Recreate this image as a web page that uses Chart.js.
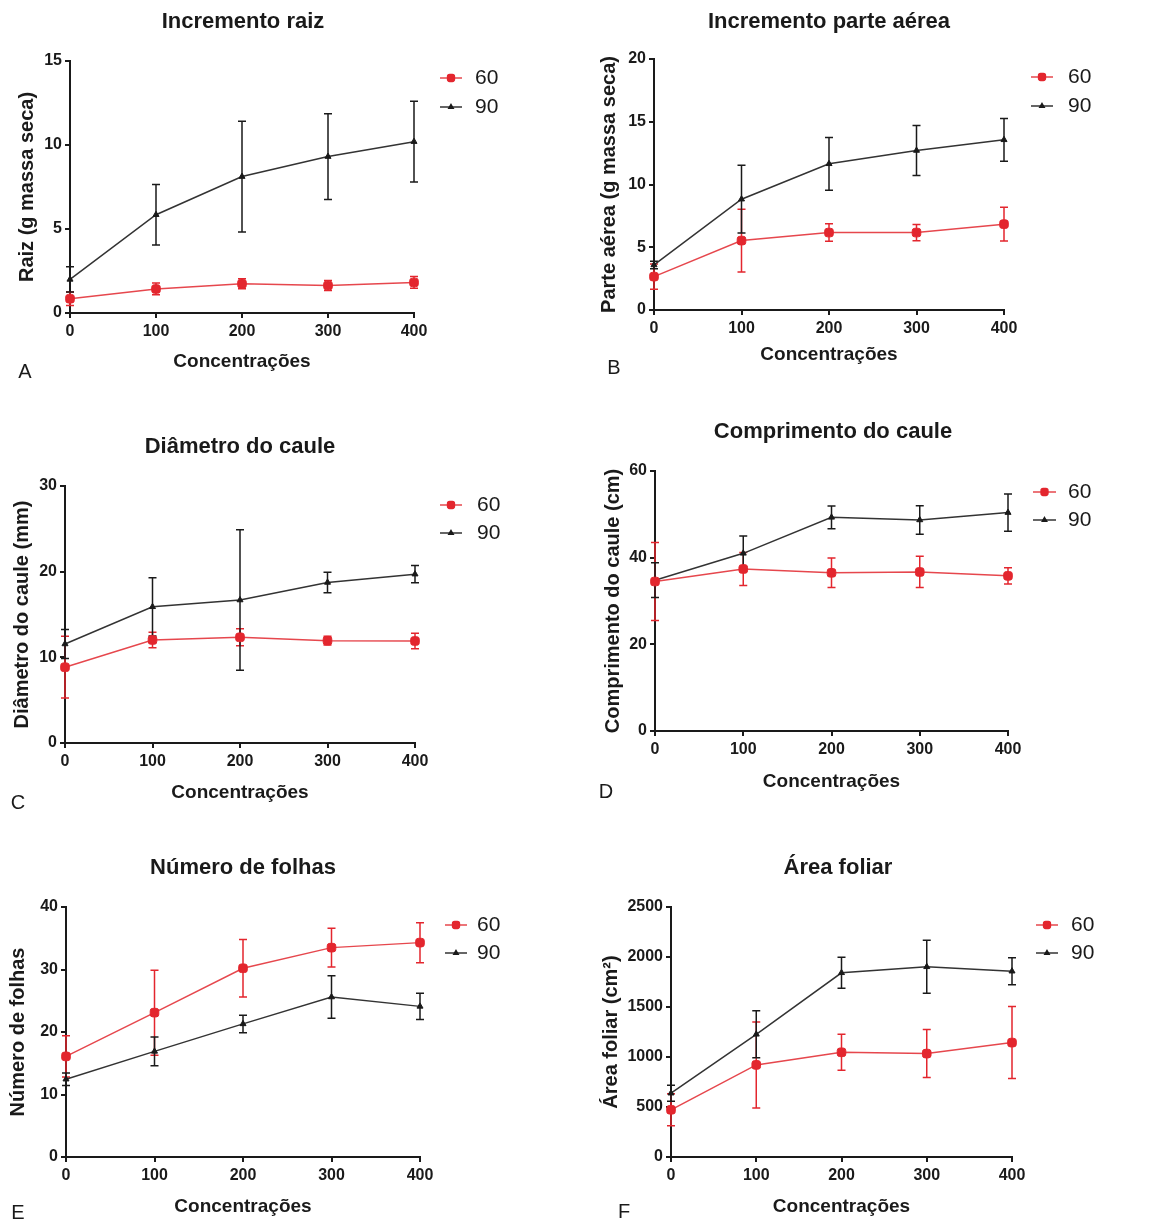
<!DOCTYPE html>
<html>
<head>
  <meta charset="utf-8">
  <title>Incremento e crescimento</title>
  <script src="https://cdn.jsdelivr.net/npm/chart.js"></script>
  <style>
    body {
      margin: 0;
      background: #fff;
    }
    #page {
      position: relative;
      width: 1152px;
      height: 1223px;
      overflow: hidden;
      background: #fff;
    }
    canvas {
      position: absolute;
    }
  </style>
</head>
<body>
<div id="page">
  <canvas id="chartA" width="576" height="410" style="left:0;top:0"></canvas>
  <canvas id="chartB" width="576" height="410" style="left:576px;top:0"></canvas>
  <canvas id="chartC" width="576" height="420" style="left:0;top:410px"></canvas>
  <canvas id="chartD" width="576" height="420" style="left:576px;top:410px"></canvas>
  <canvas id="chartE" width="576" height="393" style="left:0;top:830px"></canvas>
  <canvas id="chartF" width="576" height="393" style="left:576px;top:830px"></canvas>
</div>

<script>
  // x values shared by all panels
  const concentracoes = [0, 100, 200, 300, 400];
  const seriesNames = ['60', '90'];

  // A - Incremento raiz
  const raiz60 = [0.85, 1.43, 1.74, 1.64, 1.82];
  const raiz60Err = [0.4, 0.35, 0.3, 0.3, 0.35];
  const raiz90 = [2.0, 5.85, 8.12, 9.31, 10.2];
  const raiz90Err = [0.75, 1.8, 3.3, 2.55, 2.4];

  // B - Incremento parte aérea
  const parte60 = [2.66, 5.53, 6.17, 6.17, 6.84];
  const parte60Err = [1.0, 2.5, 0.7, 0.65, 1.35];
  const parte90 = [3.59, 8.83, 11.65, 12.71, 13.56];
  const parte90Err = [0.3, 2.7, 2.1, 2.0, 1.7];

  // C - Diâmetro do caule
  const diam60 = [8.85, 12.03, 12.34, 11.95, 11.91];
  const diam60Err = [3.6, 0.9, 1.0, 0.5, 0.9];
  const diam90 = [11.56, 15.9, 16.69, 18.74, 19.71];
  const diam90Err = [1.7, 3.4, 8.2, 1.2, 1.0];

  // D - Comprimento do caule
  const comp60 = [34.5, 37.4, 36.5, 36.7, 35.8];
  const comp60Err = [9, 3.8, 3.4, 3.6, 1.9];
  const comp90 = [34.8, 41.0, 49.3, 48.7, 50.4];
  const comp90Err = [4, 4, 2.6, 3.3, 4.3];

  // E - Número de folhas
  const folhas60 = [16.1, 23.1, 30.2, 33.5, 34.3];
  const folhas60Err = [3.3, 6.8, 4.6, 3.1, 3.2];
  const folhas90 = [12.45, 16.9, 21.3, 25.6, 24.1];
  const folhas90Err = [1.0, 2.3, 1.4, 3.4, 2.1];

  // F - Área foliar
  const area60 = [472, 921, 1047, 1034, 1144];
  const area60Err = [160, 430, 180, 240, 360];
  const area90 = [638, 1227, 1842, 1902, 1858];
  const area90Err = [80, 235, 155, 265, 135];

  const RED = '#e3262e';
  const RED_LINE = '#e6474d';
  const BLACK = '#1a1a1a';
  const FONT = '"Liberation Sans", Arial, sans-serif';

  // page layout of each panel (page coordinates)
  const panels = [
    { id: 'chartA', left: 0, top: 0, height: 410, plot: [70, 61, 414, 313], yMax: 15, yStep: 5,
      title: 'Incremento raiz', titleAt: [243, 22], yTitle: 'Raiz (g massa seca)', yTitleX: 27, xTitleOff: 49,
      legend: [440, 462, 78, 107, 475], letter: 'A', letterAt: [25, 372],
      v60: raiz60, e60: raiz60Err, v90: raiz90, e90: raiz90Err },
    { id: 'chartB', left: 576, top: 0, height: 410, plot: [654, 59, 1004, 310], yMax: 20, yStep: 5,
      title: 'Incremento parte aérea', titleAt: [829, 22], yTitle: 'Parte aérea (g massa seca)', yTitleX: 609, xTitleOff: 45,
      legend: [1031, 1053, 77, 106, 1068], letter: 'B', letterAt: [614, 368],
      v60: parte60, e60: parte60Err, v90: parte90, e90: parte90Err },
    { id: 'chartC', left: 0, top: 410, height: 420, plot: [65, 486, 415, 743], yMax: 30, yStep: 10,
      title: 'Diâmetro do caule', titleAt: [240, 447], yTitle: 'Diâmetro do caule (mm)', yTitleX: 22, xTitleOff: 50,
      legend: [440, 462, 505, 533, 477], letter: 'C', letterAt: [18, 803],
      v60: diam60, e60: diam60Err, v90: diam90, e90: diam90Err },
    { id: 'chartD', left: 576, top: 410, height: 420, plot: [655, 471, 1008, 731], yMax: 60, yStep: 20,
      title: 'Comprimento do caule', titleAt: [833, 432], yTitle: 'Comprimento do caule (cm)', yTitleX: 613, xTitleOff: 51,
      legend: [1033, 1056, 492, 520, 1068], letter: 'D', letterAt: [606, 792],
      v60: comp60, e60: comp60Err, v90: comp90, e90: comp90Err },
    { id: 'chartE', left: 0, top: 830, height: 393, plot: [66, 907, 420, 1157], yMax: 40, yStep: 10,
      title: 'Número de folhas', titleAt: [243, 868], yTitle: 'Número de folhas', yTitleX: 18, xTitleOff: 50,
      legend: [445, 467, 925, 953, 477], letter: 'E', letterAt: [18, 1213],
      v60: folhas60, e60: folhas60Err, v90: folhas90, e90: folhas90Err },
    { id: 'chartF', left: 576, top: 830, height: 393, plot: [671, 907, 1012, 1157], yMax: 2500, yStep: 500,
      title: 'Área foliar', titleAt: [838, 868], yTitle: 'Área foliar (cm²)', yTitleX: 611, xTitleOff: 50,
      legend: [1036, 1058, 925, 953, 1071], letter: 'F', letterAt: [624, 1212],
      v60: area60, e60: area60Err, v90: area90, e90: area90Err }
  ];

  // error bars, title, legend and panel letter
  const panelDecor = {
    id: 'panelDecor',
    beforeDatasetsDraw(chart) {
      const {ctx, scales: {x, y}} = chart;
      chart.data.datasets.forEach(ds => {
        ctx.save();
        ctx.strokeStyle = ds.errColor;
        ctx.lineWidth = 1.5;
        ds.data.forEach((p, i) => {
          const e = ds.errors[i];
          const px = x.getPixelForValue(p.x);
          const top = y.getPixelForValue(p.y + e);
          const bot = y.getPixelForValue(p.y - e);
          ctx.beginPath();
          ctx.moveTo(px, top);
          ctx.lineTo(px, bot);
          ctx.moveTo(px - 4, top);
          ctx.lineTo(px + 4, top);
          ctx.moveTo(px - 4, bot);
          ctx.lineTo(px + 4, bot);
          ctx.stroke();
        });
        ctx.restore();
      });
    },
    afterDraw(chart, args, opts) {
      const p = opts.panel;
      const ctx = chart.ctx;
      const ox = p.left, oy = p.top;
      ctx.save();
      ctx.fillStyle = BLACK;
      ctx.textAlign = 'center';
      ctx.textBaseline = 'middle';
      ctx.font = 'bold 22px ' + FONT;
      ctx.fillText(p.title, p.titleAt[0] - ox, p.titleAt[1] - oy);

      ctx.font = '20px ' + FONT;
      ctx.fillText(p.letter, p.letterAt[0] - ox, p.letterAt[1] - oy);

      const [lx0, lx1, ly0, ly1, tx] = p.legend;
      const rows = [ly0, ly1];
      chart.data.datasets.forEach((ds, i) => {
        const yy = rows[i] - oy;
        ctx.strokeStyle = ds.borderColor;
        ctx.lineWidth = 1.5;
        ctx.beginPath();
        ctx.moveTo(lx0 - ox, yy);
        ctx.lineTo(lx1 - ox, yy);
        ctx.stroke();
        ctx.fillStyle = ds.pointBackgroundColor;
        ctx.strokeStyle = ds.pointBackgroundColor;
        Chart.helpers.drawPoint(ctx, {
          pointStyle: ds.pointStyle, radius: ds.pointRadius - 1, rotation: 0, borderWidth: 1
        }, (lx0 + lx1) / 2 - ox, yy);
        ctx.fillStyle = BLACK;
        ctx.textAlign = 'left';
        ctx.font = '21px ' + FONT;
        ctx.fillText(ds.label, tx - ox, yy);
      });
      ctx.restore();
    }
  };

  panels.forEach(p => {
    const [pl, pt, pr, pb] = p.plot;
    const yW = pl - p.yTitleX + 12;
    const xH = p.xTitleOff + 11;

    const makeSet = (label, vals, errs, color, lineColor, style, radius) => ({
      label: label,
      data: concentracoes.map((c, i) => ({x: c, y: vals[i]})),
      errors: errs,
      errColor: color,
      borderColor: lineColor,
      borderWidth: 1.5,
      pointStyle: style,
      pointRadius: radius,
      pointBackgroundColor: color,
      pointBorderColor: color,
      pointBorderWidth: 1,
      tension: 0,
      clip: false
    });

    new Chart(document.getElementById(p.id), {
      type: 'line',
      data: {
        datasets: [
          makeSet(seriesNames[0], p.v60, p.e60, RED, RED_LINE, 'rectRounded', 5),
          makeSet(seriesNames[1], p.v90, p.e90, BLACK, '#333', 'triangle', 3.5)
        ]
      },
      options: {
        responsive: false,
        animation: false,
        layout: {
          padding: {
            left: pl - p.left - yW,
            top: pt - p.top,
            right: p.left + 576 - pr,
            bottom: p.top + p.height - pb - xH
          }
        },
        plugins: {
          legend: {display: false},
          title: {display: false},
          tooltip: {enabled: false},
          panelDecor: {panel: p}
        },
        scales: {
          x: {
            type: 'linear',
            min: 0,
            max: 400,
            afterFit: s => { s.height = xH; },
            border: {color: BLACK, width: 2},
            grid: {drawOnChartArea: false, drawTicks: true, tickLength: 5, color: BLACK, lineWidth: 2},
            ticks: {
              stepSize: 100, autoSkip: false, maxRotation: 0, padding: 4,
              color: BLACK, font: {family: FONT, size: 16, weight: 'bold'},
              callback: v => String(v)
            },
            title: {
              display: true, text: 'Concentrações', color: BLACK, padding: 0,
              font: {family: FONT, size: 19, weight: 'bold'}
            }
          },
          y: {
            min: 0,
            max: p.yMax,
            afterFit: s => { s.width = yW; },
            border: {color: BLACK, width: 2},
            grid: {drawOnChartArea: false, drawTicks: true, tickLength: 5, color: BLACK, lineWidth: 2},
            ticks: {
              stepSize: p.yStep, padding: 3,
              color: BLACK, font: {family: FONT, size: 16, weight: 'bold'},
              callback: v => String(v)
            },
            title: {
              display: true, text: p.yTitle, color: BLACK, padding: 0,
              font: {family: FONT, size: 20, weight: 'bold'}
            }
          }
        }
      },
      plugins: [panelDecor]
    });
  });
</script>
</body>
</html>
